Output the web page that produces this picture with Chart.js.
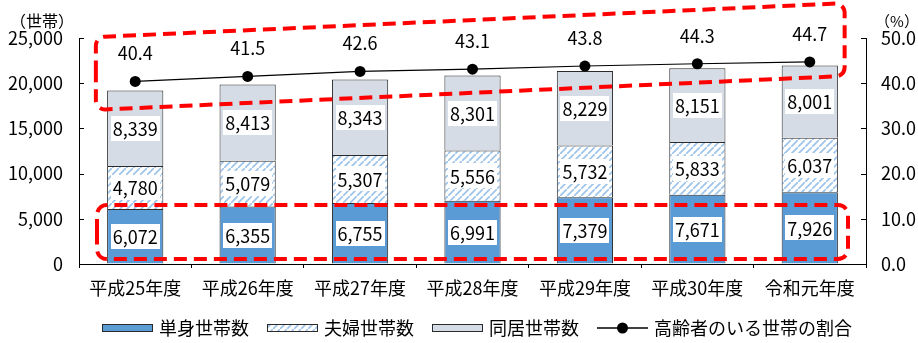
<!DOCTYPE html>
<html lang="ja">
<head>
<meta charset="utf-8">
<script src="https://cdn.jsdelivr.net/npm/chart.js@4/dist/chart.umd.min.js"></script>
<style>
  html, body { margin: 0; padding: 0; background: #fff; }
  #wrap { width: 918px; height: 343px; position: relative; }
</style>
</head>
<body>
<div id="wrap"><canvas id="chart" width="918" height="343"></canvas></div>
<script>
// 年度区分
const categories = ['平成25年度', '平成26年度', '平成27年度', '平成28年度', '平成29年度', '平成30年度', '令和元年度'];
// 世帯数（世帯）
const singleHouseholds = [6072, 6355, 6755, 6991, 7379, 7671, 7926];
const coupleHouseholds = [4780, 5079, 5307, 5556, 5732, 5833, 6037];
const cohabitHouseholds = [8339, 8413, 8343, 8301, 8229, 8151, 8001];
// 高齢者のいる世帯の割合（%）
const elderlyShare = [40.4, 41.5, 42.6, 43.1, 43.8, 44.3, 44.7];
// 軸の目盛り
const householdTicks = [0, 5000, 10000, 15000, 20000, 25000];
const shareTicks = [0, 10, 20, 30, 40, 50];

const FONT = '"Noto Sans CJK JP", "Noto Sans", sans-serif';
const TEXT = '#000000';
const BLUE = '#5B9BD5';
const GRAY = '#D6DCE5';
const EDGE = '#2b2b2b';

const fmt = v => String(v).replace(/\B(?=(\d{3})+(?!\d))/g, ',');

// 斜線パターン（夫婦世帯）
function makeHatch() {
  const n = 7;
  const c = document.createElement('canvas');
  c.width = n; c.height = n;
  const g = c.getContext('2d');
  g.fillStyle = '#ffffff';
  g.fillRect(0, 0, n, n);
  g.strokeStyle = '#9FC5EA';
  g.lineWidth = 1.8;
  g.beginPath();
  g.moveTo(-1, n + 1); g.lineTo(n + 1, -1);
  g.moveTo(-n - 1, 1); g.lineTo(1, -n - 1);
  g.moveTo(n - 1, 2 * n + 1); g.lineTo(2 * n + 1, n - 1);
  g.stroke();
  return g.createPattern(c, 'repeat');
}
const hatch = makeHatch();

// 強調枠（値空間で指定）
const trendFrame = { x0: -0.35, x1: 6.31, top0: 50.2, bottom0: 34.1, top1: 57.7, bottom1: 41.6 };
const singleFrame = { x0: -0.34, x1: 6.34, top: 6527, bottom: 553 };

// 棒・折れ線の数値ラベル
const valueLabels = {
  id: 'valueLabels',
  afterDatasetsDraw(chart) {
    const ctx = chart.ctx;
    ctx.save();
    ctx.font = '18px ' + FONT;
    ctx.textAlign = 'center';
    ctx.textBaseline = 'middle';
    chart.data.datasets.forEach((ds, di) => {
      const meta = chart.getDatasetMeta(di);
      if (ds.type === 'line') {
        meta.data.forEach((pt, i) => {
          ctx.fillStyle = TEXT;
          ctx.fillText(ds.data[i].toFixed(1), pt.x, pt.y - 28);
        });
      } else {
        meta.data.forEach((bar, i) => {
          const txt = fmt(ds.data[i]);
          const cy = (bar.y + bar.base) / 2;
          const w = ctx.measureText(txt).width + 4;
          const h = 25;
          ctx.fillStyle = '#ffffff';
          ctx.fillRect(Math.round(bar.x - w / 2), Math.round(cy - h / 2), Math.round(w), h);
          ctx.fillStyle = TEXT;
          ctx.fillText(txt, bar.x, cy + 1);
        });
      }
    });
    ctx.restore();
  }
};

// 内向きの目盛り線・軸タイトル・凡例・強調枠
const decorations = {
  id: 'decorations',
  afterDraw(chart) {
    const ctx = chart.ctx;
    const { x, y, y2 } = chart.scales;
    ctx.save();

    // 縦軸の内向き目盛り
    ctx.strokeStyle = '#000';
    ctx.lineWidth = 1;
    ctx.beginPath();
    householdTicks.forEach(v => {
      const py = Math.round(y.getPixelForValue(v)) + 0.5;
      ctx.moveTo(y.right, py); ctx.lineTo(y.right + 5, py);
    });
    shareTicks.forEach(v => {
      const py = Math.round(y2.getPixelForValue(v)) + 0.5;
      ctx.moveTo(y2.left - 5, py); ctx.lineTo(y2.left, py);
    });
    ctx.stroke();

    // 軸タイトル
    ctx.fillStyle = TEXT;
    ctx.font = '16px ' + FONT;
    ctx.textAlign = 'center';
    ctx.textBaseline = 'middle';
    ctx.fillText('（世帯）', 42, 21);
    ctx.font = '15px ' + FONT;
    ctx.fillText('（%）', 897, 21);

    // 凡例
    ctx.font = '18px ' + FONT;
    ctx.textAlign = 'left';
    const items = [
      { label: '単身世帯数', kind: 'box', fill: BLUE },
      { label: '夫婦世帯数', kind: 'box', fill: hatch },
      { label: '同居世帯数', kind: 'box', fill: GRAY },
      { label: '高齢者のいる世帯の割合', kind: 'line' }
    ];
    const sw = 51, gap = 6, spacing = 18;
    let total = 0;
    items.forEach((it, i) => {
      it.tw = ctx.measureText(it.label).width;
      total += sw + gap + it.tw + (i < items.length - 1 ? spacing : 0);
    });
    let lx = 477 - total / 2;
    const ly = 328;
    items.forEach(it => {
      if (it.kind === 'box') {
        ctx.fillStyle = it.fill;
        ctx.fillRect(lx, ly - 3.5, sw, 7);
        ctx.strokeStyle = EDGE;
        ctx.lineWidth = 1;
        ctx.strokeRect(lx + 0.5, ly - 3.5, sw - 1, 7);
      } else {
        ctx.strokeStyle = '#000';
        ctx.lineWidth = 1.5;
        ctx.beginPath();
        ctx.moveTo(lx, ly); ctx.lineTo(lx + sw, ly);
        ctx.stroke();
        ctx.fillStyle = '#000';
        ctx.beginPath();
        ctx.arc(lx + sw / 2, ly, 5.5, 0, Math.PI * 2);
        ctx.fill();
      }
      ctx.fillStyle = TEXT;
      ctx.fillText(it.label, lx + sw + gap, ly);
      lx += sw + gap + it.tw + spacing;
    });

    // 強調枠
    const roundPoly = (pts, r) => {
      ctx.beginPath();
      const n = pts.length;
      const mid = (a, b) => [(a[0] + b[0]) / 2, (a[1] + b[1]) / 2];
      const start = mid(pts[n - 1], pts[0]);
      ctx.moveTo(start[0], start[1]);
      for (let i = 0; i < n; i++) {
        const p = pts[i], q = pts[(i + 1) % n];
        ctx.arcTo(p[0], p[1], q[0], q[1], r);
      }
      ctx.closePath();
      ctx.stroke();
    };
    ctx.strokeStyle = '#FF0000';
    ctx.lineWidth = 4;
    ctx.setLineDash([13, 7]);
    const ax0 = x.getPixelForValue(trendFrame.x0), ax1 = x.getPixelForValue(trendFrame.x1);
    roundPoly([
      [ax0, y2.getPixelForValue(trendFrame.top0)],
      [ax1, y2.getPixelForValue(trendFrame.top1)],
      [ax1, y2.getPixelForValue(trendFrame.bottom1)],
      [ax0, y2.getPixelForValue(trendFrame.bottom0)]
    ], 9);
    const bx0 = x.getPixelForValue(singleFrame.x0), bx1 = x.getPixelForValue(singleFrame.x1);
    const by0 = y.getPixelForValue(singleFrame.top), by1 = y.getPixelForValue(singleFrame.bottom);
    roundPoly([[bx0, by0], [bx1, by0], [bx1, by1], [bx0, by1]], 10);
    ctx.restore();
  }
};

new Chart(document.getElementById('chart'), {
  data: {
    labels: categories,
    datasets: [
      {
        type: 'line', label: '高齢者のいる世帯の割合', data: elderlyShare, yAxisID: 'y2',
        borderColor: '#000', borderWidth: 1.2, pointRadius: 5.5, pointBackgroundColor: '#000',
        pointBorderWidth: 0, tension: 0, order: 0
      },
      {
        type: 'bar', label: '単身世帯数', data: singleHouseholds, yAxisID: 'y',
        backgroundColor: BLUE, borderColor: EDGE, borderWidth: 1, order: 1
      },
      {
        type: 'bar', label: '夫婦世帯数', data: coupleHouseholds, yAxisID: 'y',
        backgroundColor: hatch, borderColor: EDGE, borderWidth: 1, order: 1
      },
      {
        type: 'bar', label: '同居世帯数', data: cohabitHouseholds, yAxisID: 'y',
        backgroundColor: GRAY, borderColor: EDGE, borderWidth: 1, order: 1
      }
    ]
  },
  options: {
    responsive: false,
    animation: false,
    layout: { padding: { top: 38, left: 0, right: 0, bottom: 0 } },
    datasets: { bar: { categoryPercentage: 1.0, barPercentage: 0.5 } },
    plugins: { legend: { display: false }, tooltip: { enabled: false } },
    scales: {
      x: {
        stacked: true,
        grid: { drawOnChartArea: false, offset: true, tickLength: 4, color: '#000' },
        border: { color: '#000' },
        ticks: { color: TEXT, font: { family: FONT, size: 18 }, padding: 9, maxRotation: 0 },
        afterFit(s) { s.height = 79; }
      },
      y: {
        stacked: true, position: 'left', min: 0, max: 25000,
        afterBuildTicks(s) { s.ticks = householdTicks.map(v => ({ value: v })); },
        grid: { drawOnChartArea: false, drawTicks: false },
        border: { color: '#000' },
        ticks: { color: TEXT, font: { family: FONT, size: 18 }, padding: 16, callback: v => fmt(v) },
        afterFit(s) { s.width = 79; }
      },
      y2: {
        position: 'right', min: 0, max: 50,
        afterBuildTicks(s) { s.ticks = shareTicks.map(v => ({ value: v })); },
        grid: { drawOnChartArea: false, drawTicks: false },
        border: { color: '#000' },
        ticks: { color: TEXT, font: { family: FONT, size: 18 }, padding: 15, callback: v => Number(v).toFixed(1) },
        afterFit(s) { s.width = 52; }
      }
    }
  },
  plugins: [valueLabels, decorations]
});
</script>
</body>
</html>
